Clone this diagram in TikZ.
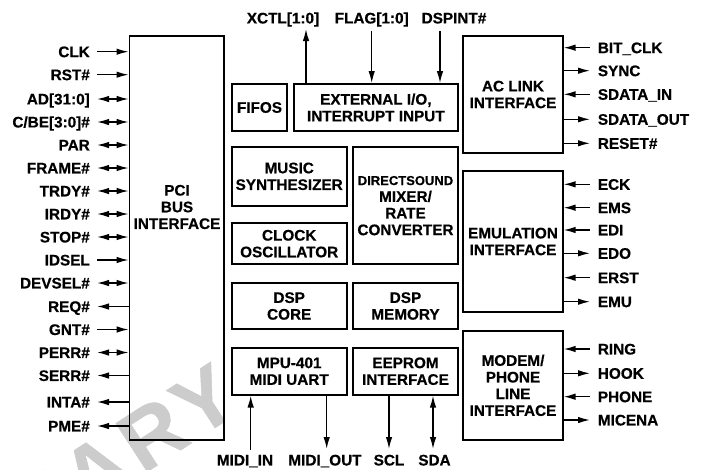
\documentclass[tikz,border=0pt]{standalone}
\usepackage{fontspec}
\setmainfont{Liberation Sans}[BoldFeatures={FakeBold=0.6}]
\usetikzlibrary{arrows, arrows.meta}
\usetikzlibrary{calc}

\tikzset{
  blk/.style={draw, line width=1.8pt, inner sep=0pt, align=center},
  sig/.style={inner ysep=1pt, text height=13.9pt, text depth=3pt},
  pinl/.style={sig, anchor=east, inner xsep=7pt},
  pinr/.style={sig, anchor=west, inner xsep=7.7pt},
  wire/.style={line width=1.4pt},
  >={Latex[length=12pt,width=6.5pt]}
}

\begin{document}
\begin{tikzpicture}[x=1pt, y=-1pt, font=\fontsize{15.3}{16.7}\selectfont\bfseries]
      \useasboundingbox (0,0) rectangle (704,469);
      % watermark
      \begin{scope}
        \clip (0,0) rectangle (704,469);
        \node[text=black!20, font=\fontsize{84}{84}\selectfont\bfseries\addfontfeature{LetterSpace=8}, rotate=33, anchor=east, inner sep=0pt] (wmark) at (228,385) {PRELIMINARY};
      \end{scope}

      % blocks
      \node[blk, minimum width=94.5, minimum height=404] (pci) at (176.75,238) {};
      \node[align=center] (pcitxt) at (177,207) {PCI\\BUS\\INTERFACE};
      \node[blk, minimum width=55.6, minimum height=47] (fifos) at (259.5,107.5) {FIFOS};
      \node[blk, minimum width=163.7, minimum height=47] (ext) at (375.85,107.5) {EXTERNAL I/O,\\INTERRUPT INPUT};
      \node[blk, minimum width=115, minimum height=58.7] (music) at (289.2,176.35) {MUSIC\\SYNTHESIZER};
      \node[blk, minimum width=104.4, minimum height=117.3] (dsound) at (405.5,205.65) {{\fontsize{13}{15}\selectfont DIRECTSOUND}\\MIXER/\\RATE\\CONVERTER};
      \node[blk, minimum width=115, minimum height=41.3] (clock) at (289.2,243.65) {CLOCK\\OSCILLATOR};
      \node[blk, minimum width=115, minimum height=46.6] (dspcore) at (289.2,306) {DSP\\CORE};
      \node[blk, minimum width=104.4, minimum height=46.6] (dspmem) at (405.5,306) {DSP\\MEMORY};
      \node[blk, minimum width=115, minimum height=47] (mpu) at (289.2,371.2) {MPU-401\\MIDI UART};
      \node[blk, minimum width=104.4, minimum height=47] (eeprom) at (405.5,371.2) {EEPROM\\INTERFACE};
      \node[blk, minimum width=99.4, minimum height=117.6] (aclink) at (513,94.5) {AC LINK\\INTERFACE};
      \node[blk, minimum width=99.4, minimum height=141.6] (emul) at (513,241.5) {EMULATION\\INTERFACE};
      \node[blk, minimum width=99.4, minimum height=109.3] (modem) at (513,385.35) {MODEM/\\PHONE\\LINE\\INTERFACE};

      % PCI pins
      \node[pinl] (clk) at (97,51.7) {CLK};
      \node[pinl] (rst) at (97,74.7) {RST\#};
      \node[pinl] (ad) at (97,99) {AD[31:0]};
      \node[pinl] (cbe) at (97,122) {C/BE[3:0]\#};
      \node[pinl] (par) at (97,145) {PAR};
      \node[pinl] (frame) at (97,168) {FRAME\#};
      \node[pinl] (trdy) at (97,191) {TRDY\#};
      \node[pinl] (irdy) at (97,214) {IRDY\#};
      \node[pinl] (stop) at (97,237) {STOP\#};
      \node[pinl] (idsel) at (97,260) {IDSEL};
      \node[pinl] (devsel) at (97,283) {DEVSEL\#};
      \node[pinl] (req) at (97,306.5) {REQ\#};
      \node[pinl] (gnt) at (97,329.5) {GNT\#};
      \node[pinl] (perr) at (97,352.5) {PERR\#};
      \node[pinl] (serr) at (97,375.5) {SERR\#};
      \node[pinl] (inta) at (97,402) {INTA\#};
      \node[pinl] (pme) at (97,426) {PME\#};

      \draw[wire, ->] (clk) -- (clk -| pci.west);
      \draw[wire, ->] (rst) -- (rst -| pci.west);
      \draw[wire, <->] (ad) -- (ad -| pci.west);
      \draw[wire, <->] (cbe) -- (cbe -| pci.west);
      \draw[wire, <->] (par) -- (par -| pci.west);
      \draw[wire, <->] (frame) -- (frame -| pci.west);
      \draw[wire, <->] (trdy) -- (trdy -| pci.west);
      \draw[wire, <->] (irdy) -- (irdy -| pci.west);
      \draw[wire, <->] (stop) -- (stop -| pci.west);
      \draw[wire, ->] (idsel) -- (idsel -| pci.west);
      \draw[wire, <->] (devsel) -- (devsel -| pci.west);
      \draw[wire, <-] (req) -- (req -| pci.west);
      \draw[wire, ->] (gnt) -- (gnt -| pci.west);
      \draw[wire, <->] (perr) -- (perr -| pci.west);
      \draw[wire, <-] (serr) -- (serr -| pci.west);
      \draw[wire, <-] (inta) -- (inta -| pci.west);
      \draw[wire, <-] (pme) -- (pme -| pci.west);

      % top pins
      \node[sig] (xctl) at (283,18) {XCTL[1:0]};
      \node[sig] (flag) at (371.7,18) {FLAG[1:0]};
      \node[sig] (dspint) at (454,18) {DSPINT\#};
      \coordinate (xctlend) at (306,29);
      \coordinate (dspintend) at (440,31);
      \draw[wire, ->] (ext.north -| xctlend) -- (xctlend);
      \draw[wire, ->, shorten <=3.5pt] (flag) -- (flag |- ext.north);
      \draw[wire, ->] (dspintend) -- (dspintend |- ext.north);

      % bottom pins
      \node[sig] (midiin) at (245,460) {MIDI\_IN};
      \node[sig] (midiout) at (325,460) {MIDI\_OUT};
      \node[sig] (scl) at (389,460) {SCL};
      \node[sig] (sda) at (434.5,460) {SDA};
      \coordinate (midiinend) at (250.7,450);
      \coordinate (midioutend) at (326.7,449);
      \coordinate (sclend) at (389,449);
      \coordinate (sdaend) at (433,449);
      \draw[wire, ->] (midiinend) -- (midiinend |- mpu.south);
      \draw[wire, ->] (mpu.south -| midioutend) -- (midioutend);
      \draw[wire, ->] (eeprom.south -| sclend) -- (sclend);
      \draw[wire, <->] (eeprom.south -| sdaend) -- (sdaend);

      % AC link pins
      \node[pinr] (bitclk) at (590,47.7) {BIT\_CLK};
      \node[pinr] (sync) at (590,70.7) {SYNC};
      \node[pinr] (sdin) at (590,94.3) {SDATA\_IN};
      \node[pinr] (sdout) at (590,119.3) {SDATA\_OUT};
      \node[pinr] (reset) at (590,143.3) {RESET\#};
      \draw[wire, <-] (aclink.east |- bitclk) -- (bitclk);
      \draw[wire, ->] (aclink.east |- sync) -- (sync);
      \draw[wire, <-] (aclink.east |- sdin) -- (sdin);
      \draw[wire, ->] (aclink.east |- sdout) -- (sdout);
      \draw[wire, ->] (aclink.east |- reset) -- (reset);

      % emulation pins
      \node[pinr] (eck) at (590,184.3) {ECK};
      \node[pinr] (ems) at (590,207.7) {EMS};
      \node[pinr] (edi) at (590,230) {EDI};
      \node[pinr] (edo) at (590,253.3) {EDO};
      \node[pinr] (erst) at (590,277.7) {ERST};
      \node[pinr] (emu) at (590,301.7) {EMU};
      \draw[wire, <-] (emul.east |- eck) -- (eck);
      \draw[wire, <-] (emul.east |- ems) -- (ems);
      \draw[wire, <-] (emul.east |- edi) -- (edi);
      \draw[wire, ->] (emul.east |- edo) -- (edo);
      \draw[wire, <-] (emul.east |- erst) -- (erst);
      \draw[wire, ->] (emul.east |- emu) -- (emu);

      % modem pins
      \node[pinr] (ring) at (590,349) {RING};
      \node[pinr] (hook) at (590,373.3) {HOOK};
      \node[pinr] (phone) at (590,396.7) {PHONE};
      \node[pinr] (micena) at (590,420) {MICENA};
      \draw[wire, <-] (modem.east |- ring) -- (ring);
      \draw[wire, ->] (modem.east |- hook) -- (hook);
      \draw[wire, <-] (modem.east |- phone) -- (phone);
      \draw[wire, ->] (modem.east |- micena) -- (micena);
\end{tikzpicture}
\end{document}
